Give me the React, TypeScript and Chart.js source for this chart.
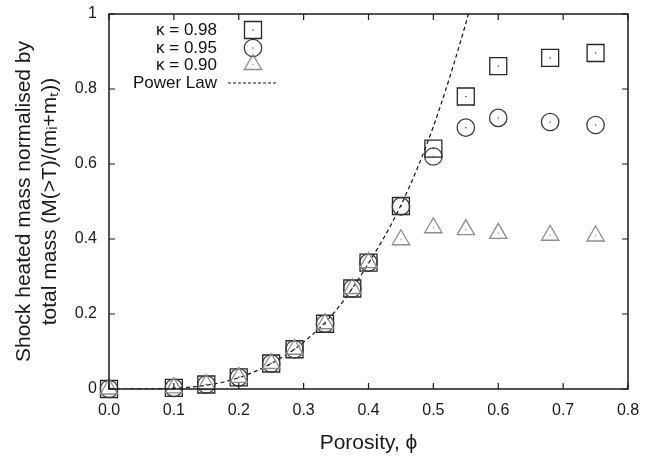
import React, { useEffect, useRef } from "react";
import { Chart, registerables } from "chart.js";

Chart.register(...registerables);

// Data
const phi98 = [0, 0.1, 0.15, 0.2, 0.25, 0.286, 0.333, 0.375, 0.4, 0.45, 0.5, 0.55, 0.6, 0.68, 0.75];
const mass98 = [0, 0.003, 0.012, 0.031, 0.068, 0.106, 0.174, 0.268, 0.337, 0.488, 0.641, 0.78, 0.861, 0.883, 0.896];

const phi95 = [0, 0.1, 0.15, 0.2, 0.25, 0.286, 0.333, 0.375, 0.4, 0.45, 0.5, 0.55, 0.6, 0.68, 0.75];
const mass95 = [0, 0.003, 0.012, 0.031, 0.068, 0.106, 0.174, 0.268, 0.337, 0.487, 0.62, 0.697, 0.723, 0.712, 0.704];

const phi90 = [0, 0.1, 0.15, 0.2, 0.25, 0.286, 0.333, 0.375, 0.4, 0.45, 0.5, 0.55, 0.6, 0.68, 0.75];
const mass90 = [0, 0.003, 0.012, 0.031, 0.068, 0.106, 0.174, 0.268, 0.337, 0.398, 0.43, 0.425, 0.415, 0.41, 0.408];

const phiLaw = [0, 0.05, 0.1, 0.15, 0.2, 0.25, 0.3, 0.35, 0.4, 0.45, 0.5, 0.55, 0.56];
const massLaw = [0, 0.0002, 0.002, 0.01, 0.03, 0.068, 0.125, 0.21, 0.335, 0.49, 0.7, 0.975, 1.04];

const xTicks = [0, 0.1, 0.2, 0.3, 0.4, 0.5, 0.6, 0.7, 0.8];
const yTicks = [0, 0.2, 0.4, 0.6, 0.8, 1];

const legendLabels = ["\u03ba = 0.98", "\u03ba = 0.95", "\u03ba = 0.90", "Power Law"];

const FONT = "'Liberation Sans', Arial, Helvetica, sans-serif";
const SQ_COLOR = "#262626";
const CI_COLOR = "#3a3a3a";
const TR_COLOR = "#8c8c8c";

function pts(xs: number[], ys: number[]) {
  return xs.map((x, i) => ({ x, y: ys[i] }));
}

function drawMarker(ctx: CanvasRenderingContext2D, style: string, x: number, y: number, color: string) {
  ctx.save();
  ctx.strokeStyle = color;
  ctx.lineWidth = 1.3;
  ctx.beginPath();
  if (style === "rect") {
    ctx.rect(x - 8.5, y - 8.5, 17, 17);
  } else if (style === "circle") {
    ctx.arc(x, y, 8.7, 0, Math.PI * 2);
  } else {
    const r = 10;
    for (let k = 0; k < 3; k++) {
      const a = (k * 2 * Math.PI) / 3;
      const px = x + Math.sin(a) * r;
      const py = y - Math.cos(a) * r;
      if (k === 0) ctx.moveTo(px, py);
      else ctx.lineTo(px, py);
    }
    ctx.closePath();
  }
  ctx.stroke();
  ctx.fillStyle = color;
  ctx.fillRect(x - 0.6, y - 0.6, 1.2, 1.2);
  ctx.restore();
}

const framePlugin = {
  id: "frame",
  afterDatasetsDraw(chart: any) {
    const ctx = chart.ctx as CanvasRenderingContext2D;
    const { left, right, top, bottom } = chart.chartArea;
    const xs = chart.scales.x;
    const ys = chart.scales.y;
    ctx.save();
    // center dots on markers
    chart.data.datasets.forEach((ds: any, i: number) => {
      if (ds.showLine) return;
      const meta = chart.getDatasetMeta(i);
      ctx.fillStyle = ds.borderColor;
      meta.data.forEach((el: any) => {
        ctx.fillRect(el.x - 0.6, el.y - 0.6, 1.2, 1.2);
      });
    });
    ctx.strokeStyle = "#1a1a1a";
    ctx.lineWidth = 1.5;
    ctx.strokeRect(left, top, right - left, bottom - top);
    ctx.lineWidth = 1.2;
    ctx.beginPath();
    const tl = 6;
    xTicks.forEach((v) => {
      const px = xs.getPixelForValue(v);
      ctx.moveTo(px, bottom);
      ctx.lineTo(px, bottom - tl);
      ctx.moveTo(px, top);
      ctx.lineTo(px, top + tl);
    });
    yTicks.forEach((v) => {
      const py = ys.getPixelForValue(v);
      ctx.moveTo(left, py);
      ctx.lineTo(left + tl, py);
      ctx.moveTo(right, py);
      ctx.lineTo(right - tl, py);
    });
    ctx.stroke();

    // legend
    ctx.font = `17px ${FONT}`;
    ctx.fillStyle = "#111";
    ctx.textAlign = "right";
    ctx.textBaseline = "middle";
    const rows = [30, 48, 65.5, 83];
    const textX = 217;
    const markX = 253;
    legendLabels.forEach((lab, i) => {
      ctx.fillText(lab, textX, rows[i]);
    });
    drawMarker(ctx, "rect", markX, rows[0], SQ_COLOR);
    drawMarker(ctx, "circle", markX, rows[1], CI_COLOR);
    drawMarker(ctx, "triangle", markX, rows[2] - 1, TR_COLOR);
    ctx.strokeStyle = "#111";
    ctx.lineWidth = 1.2;
    ctx.setLineDash([3, 2]);
    ctx.beginPath();
    ctx.moveTo(228, rows[3]);
    ctx.lineTo(278, rows[3]);
    ctx.stroke();
    ctx.restore();
  },
};

export default function App() {
  const ref = useRef<HTMLCanvasElement | null>(null);
  useEffect(() => {
    if (!ref.current) return;
    const chart = new Chart(ref.current, {
      type: "scatter",
      data: {
        datasets: [
          {
            label: "Power Law",
            data: pts(phiLaw, massLaw),
            showLine: true,
            borderColor: "#111",
            borderWidth: 1.2,
            borderDash: [4, 3],
            pointRadius: 0,
            cubicInterpolationMode: "monotone",
            order: 4,
          },
          {
            label: legendLabels[0],
            data: pts(phi98, mass98),
            pointStyle: "rect",
            pointRadius: 12,
            borderColor: SQ_COLOR,
            backgroundColor: "rgba(0,0,0,0)",
            borderWidth: 1.3,
            clip: false,
            order: 3,
          },
          {
            label: legendLabels[1],
            data: pts(phi95, mass95),
            pointStyle: "circle",
            pointRadius: 8.7,
            borderColor: CI_COLOR,
            backgroundColor: "rgba(0,0,0,0)",
            borderWidth: 1.3,
            clip: false,
            order: 2,
          },
          {
            label: legendLabels[2],
            data: pts(phi90, mass90),
            pointStyle: "triangle",
            pointRadius: 10,
            borderColor: TR_COLOR,
            backgroundColor: "rgba(0,0,0,0)",
            borderWidth: 1.3,
            clip: false,
            order: 1,
          },
        ] as any,
      },
      options: {
        animation: false,
        responsive: false,
        devicePixelRatio: 1,
        layout: { autoPadding: false, padding: { left: 0, top: 14, right: 23, bottom: 0 } },
        plugins: { legend: { display: false }, tooltip: { enabled: false } },
        scales: {
          x: {
            type: "linear",
            min: 0,
            max: 0.8,
            afterFit: (s: any) => {
              s.height = 67;
              s.paddingLeft = 0;
              s.paddingRight = 0;
            },
            afterBuildTicks: (s: any) => {
              s.ticks = xTicks.map((v) => ({ value: v }));
            },
            grid: { display: false, drawTicks: false },
            border: { display: false },
            ticks: {
              padding: 12,
              color: "#1a1a1a",
              font: { family: FONT, size: 16 },
              callback: (v: any) => Number(v).toFixed(1),
            },
            title: {
              display: true,
              text: "Porosity, \u03d5",
              color: "#1a1a1a",
              font: { family: FONT, size: 21 },
              padding: { top: 7, bottom: 0 },
            },
          },
          y: {
            type: "linear",
            min: 0,
            max: 1,
            afterFit: (s: any) => {
              s.width = 109;
              s.paddingTop = 0;
              s.paddingBottom = 0;
            },
            afterBuildTicks: (s: any) => {
              s.ticks = yTicks.map((v) => ({ value: v }));
            },
            grid: { display: false, drawTicks: false },
            border: { display: false },
            ticks: {
              padding: 12,
              color: "#1a1a1a",
              font: { family: FONT, size: 16 },
              callback: (v: any) => {
                const n = Number(v);
                if (n === 0) return "0";
                if (n === 1) return "1";
                return n.toFixed(1);
              },
            },
            title: {
              display: true,
              text: ["Shock heated mass normalised by", "total mass (M(>T)/(m\u1d62+m\u209c))"],
              color: "#1a1a1a",
              font: { family: FONT, size: 21, lineHeight: 1.2 },
              padding: { top: 12, bottom: 0 },
            },
          },
        },
      } as any,
      plugins: [framePlugin],
    });
    return () => chart.destroy();
  }, []);
  return (
    <div style={{ position: "fixed", left: 0, top: 0, width: 651, height: 456, background: "#fff" }}>
      <canvas ref={ref} width={651} height={456} style={{ width: 651, height: 456 }} />
    </div>
  );
}
